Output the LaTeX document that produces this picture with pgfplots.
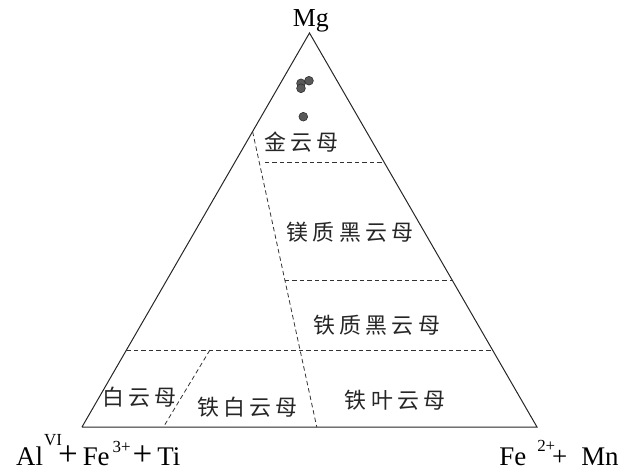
\documentclass[border=0pt]{standalone}
\usepackage{fontspec}
\usepackage{graphicx}
\usepackage{pgfplots}
\pgfplotsset{compat=1.18}
\setmainfont{Liberation Serif}
\newfontfamily\cjk[LetterSpace=19]{Noto Sans CJK SC}

\newcommand\bigplus{\scalebox{1.3}{+}}
\newcommand\charge[2]{\raisebox{#1}{\fontsize{17}{19}\selectfont #2}}

\begin{document}
\begin{tikzpicture}
\begin{axis}[
  width=634bp, height=472bp, scale only axis,
  xmin=-0.1802, xmax=1.2132, ymin=-0.0989, ymax=0.9385,
  hide axis, clip=false]
% frame, keeps the page size
\addplot[draw=none] coordinates {(-0.1802,-0.0989) (1.2132,0.9385)};
% triangle
\addplot[black!85, line width=1pt, line join=miter] coordinates {(0,0) (1,0) (0.5,0.866) (0,0)};
% field boundaries
\addplot[black!80, line width=0.8pt, dash pattern=on 4.5bp off 3bp] coordinates {(0.402,0.581) (0.664,0.581)};
\addplot[black!80, line width=0.8pt, dash pattern=on 4.5bp off 3bp] coordinates {(0.446,0.323) (0.8135,0.323)};
\addplot[black!80, line width=0.8pt, dash pattern=on 4.5bp off 3bp] coordinates {(0.0976,0.169) (0.9024,0.169)};
\addplot[black!80, line width=0.8pt, dash pattern=on 4.5bp off 3bp] coordinates {(0.375,0.649) (0.516,0)};
\addplot[black!80, line width=0.8pt, dash pattern=on 4.5bp off 3bp] coordinates {(0.281,0.169) (0.179,0)};
% samples
\addplot[only marks, mark=*, mark size=4.4bp, mark options={fill=black!65, draw=black!85, line width=0.5pt}]
  coordinates {(0.4813,0.7554) (0.4989,0.7611) (0.4813,0.7444) (0.4864,0.682)};
% labels
\begin{scope}[every node/.style={font=\cjk\fontsize{22}{26}\selectfont, text=black!85}]
\node at (axis cs:0.483,0.626) {金云母};
\node at (axis cs:0.589,0.429) {镁质黑云母};
\node at (axis cs:0.648,0.224) {铁质黑云母};
\node at (axis cs:0.127,0.066) {白云母};
\node at (axis cs:0.363,0.044) {铁白云母};
\node at (axis cs:0.688,0.059) {铁叶云母};
\end{scope}
\node[anchor=base, font=\fontsize{26}{30}\selectfont, inner sep=0pt] at (axis cs:0.503,0.880) {Mg};
\node[anchor=base west, font=\fontsize{27}{30}\selectfont, inner sep=0pt] at (axis cs:-0.145,-0.085)
  {Al\hspace{1pt}\rlap{\charge{20pt}{VI}}\hspace{14pt}\bigplus\hspace{5pt}Fe\hspace{3pt}\charge{13pt}{3+}\hspace{2pt}\bigplus\hspace{5pt}Ti};
\node[anchor=base east, font=\fontsize{27}{30}\selectfont, inner sep=0pt] at (axis cs:1.180,-0.085)
  {Fe\hspace{11pt}\rlap{\charge{14pt}{2+}}\hspace{15pt}+\hspace{14pt}Mn};
\end{axis}
\end{tikzpicture}
\end{document}
